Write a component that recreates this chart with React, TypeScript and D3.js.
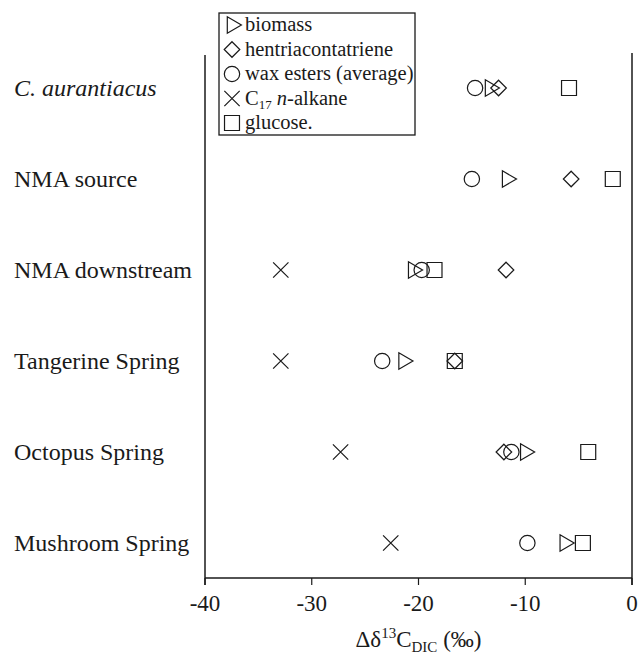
import React from "react";
import * as d3 from "d3";

const width = 643;
const height = 658;

const sites = [
  "C. aurantiacus",
  "NMA source",
  "NMA downstream",
  "Tangerine Spring",
  "Octopus Spring",
  "Mushroom Spring",
];

// null = not measured for that site
const biomass = [-13.3, -11.7, -20.5, -21.4, -10.0, -6.3];
const hentriacontatriene = [-12.5, -5.7, -11.8, -16.6, -12.0, null];
const waxEsters = [-14.7, -15.0, -19.7, -23.4, -11.3, -9.8];
const c17Alkane = [null, null, -32.9, -32.9, -27.3, -22.6];
const glucose = [-5.9, -1.8, -18.5, -16.6, -4.1, -4.6];

const xTicks = [-40, -30, -20, -10, 0];

const margin = { left: 205, right: 11, top: 55, bottom: 80 };

const x = d3.scaleLinear().domain([-40, 0]).range([margin.left, width - margin.right]);
const y = d3.scalePoint().domain(sites).range([88, 543]);
const axisY = height - margin.bottom;

const sym = (type, size) => d3.symbol().type(type).size(size)();

const shapes = {
  biomass: { d: sym(d3.symbolTriangle2, 190), rotate: 90 },
  hentriacontatriene: { d: sym(d3.symbolDiamond2, 155), rotate: 0 },
  wax: { d: sym(d3.symbolCircle, 185), rotate: 0 },
  c17: { d: sym(d3.symbolTimes, 155), rotate: 0 },
  glucose: { d: sym(d3.symbolSquare2, 285), rotate: 0 },
};

const series = [
  { key: "glucose", values: glucose },
  { key: "c17", values: c17Alkane },
  { key: "wax", values: waxEsters },
  { key: "hentriacontatriene", values: hentriacontatriene },
  { key: "biomass", values: biomass },
];

const ink = "#1a1a1a";
const font = "'Liberation Serif', 'Times New Roman', serif";

const Marker = ({ kind, cx, cy }) => (
  <path
    d={shapes[kind].d}
    transform={`translate(${cx},${cy}) rotate(${shapes[kind].rotate})`}
    fill="none"
    stroke={ink}
    strokeWidth={1.2}
  />
);

const legendRows = [
  { kind: "biomass", label: <tspan>biomass</tspan> },
  { kind: "hentriacontatriene", label: <tspan>hentriacontatriene</tspan> },
  { kind: "wax", label: <tspan>wax esters (average)</tspan> },
  {
    kind: "c17",
    label: (
      <>
        <tspan>C</tspan>
        <tspan fontSize={13} dy={4}>17</tspan>
        <tspan dy={-4} fontStyle="italic"> n</tspan>
        <tspan>-alkane</tspan>
      </>
    ),
  },
  { kind: "glucose", label: <tspan>glucose.</tspan> },
];

const legendTop = 13;
const rowGap = 24.5;

const App = () => {
  return (
    <svg
      width={width}
      height={height}
      style={{ position: "absolute", left: 0, top: 0, background: "#fff" }}
      fontFamily={font}
    >
      {/* frame: left, right, bottom */}
      <line x1={x(-40)} x2={x(-40)} y1={margin.top} y2={axisY + 7} stroke={ink} strokeWidth={1.5} />
      <line x1={x(0)} x2={x(0)} y1={margin.top - 2} y2={axisY + 7} stroke={ink} strokeWidth={1.5} />
      <line x1={x(-40)} x2={x(0)} y1={axisY} y2={axisY} stroke={ink} strokeWidth={1.5} />

      {xTicks.map((t) => (
        <g key={t}>
          <line x1={x(t)} x2={x(t)} y1={axisY} y2={axisY + 7} stroke={ink} strokeWidth={1.2} />
          <text x={x(t)} y={axisY + 33} textAnchor="middle" fontSize={23} fill={ink}>
            {t}
          </text>
        </g>
      ))}

      <text x={x(-20)} y={647} textAnchor="middle" fontSize={23} fill={ink}>
        <tspan>Δδ</tspan>
        <tspan fontSize={15} dy={-9}>13</tspan>
        <tspan dy={9}>C</tspan>
        <tspan fontSize={15} dy={5}>DIC</tspan>
        <tspan dy={-5}> (‰)</tspan>
      </text>

      {sites.map((s, i) => (
        <text
          key={s}
          x={14}
          y={y(s) + 8}
          fontSize={24}
          fill={ink}
          fontStyle={i === 0 ? "italic" : "normal"}
        >
          {s}
        </text>
      ))}

      {series.map((ser) =>
        ser.values.map((v, i) =>
          v === null ? null : (
            <Marker key={ser.key + i} kind={ser.key} cx={x(v)} cy={y(sites[i])} />
          )
        )
      )}

      {/* legend */}
      <g>
        <rect x={219} y={legendTop} width={196} height={122} fill="#fff" stroke={ink} strokeWidth={1.3} />
        {legendRows.map((r, i) => (
          <g key={r.kind}>
            <Marker kind={r.kind} cx={232} cy={legendTop + 12 + i * rowGap} />
            <text x={245} y={legendTop + 12 + i * rowGap + 6} fontSize={20.5} fill={ink}>
              {r.label}
            </text>
          </g>
        ))}
      </g>
    </svg>
  );
};

export default App;
